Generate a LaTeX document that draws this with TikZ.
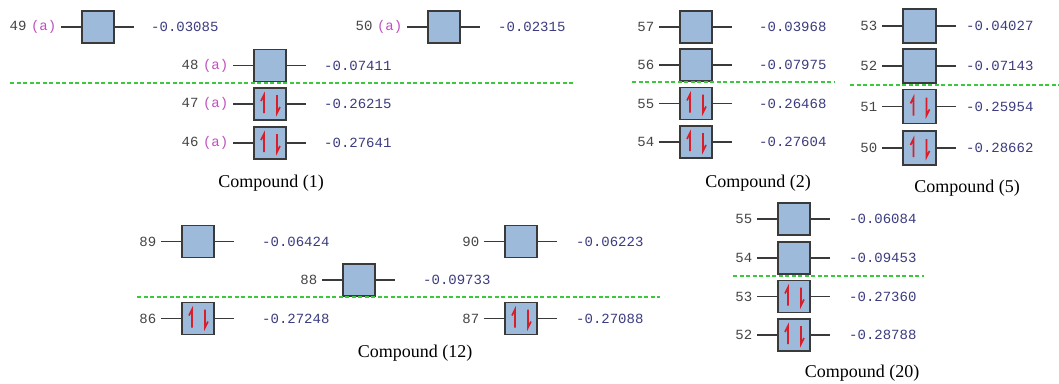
\documentclass[tikz,border=0pt]{standalone}
\usepackage{fontspec}
\setmainfont{Liberation Serif}
\setmonofont{Liberation Mono}
\definecolor{boxfill}{HTML}{9DBADB}
\definecolor{boxline}{HTML}{3A3A3A}
\definecolor{stubcol}{HTML}{3A3A3A}
\definecolor{labcol}{HTML}{454545}
\definecolor{acol}{HTML}{C050C0}
\definecolor{valcol}{HTML}{3C3C80}
\definecolor{spincol}{HTML}{D81E28}
\definecolor{greencol}{HTML}{3CC83C}
\tikzset{
 mobox/.style={draw=boxline,fill=boxfill,line width=1.1pt,minimum width=32pt,minimum height=32pt,inner sep=0pt},
 mobigbox/.style={mobox,minimum width=33pt,minimum height=34pt},
 stub/.style={draw=stubcol,line width=1.1pt},
 lab/.style={font=\fontsize{14}{14}\selectfont\ttfamily,text=labcol,inner sep=0pt,anchor=east},
 val/.style={font=\fontsize{14}{14}\selectfont\ttfamily,text=valcol,inner sep=0pt,anchor=west},
 spin/.style={draw=spincol,line width=1.6pt,line join=miter},
 gline/.style={draw=greencol,line width=2pt,dash pattern=on 4pt off 2.5pt},
 captext/.style={font=\fontsize{18}{18}\selectfont,inner sep=0pt}
}
% #1 style, #2 id, #3 box centre x, #4 centre y, #5 label, #6 value, #7 value x, #8 occupied (1/0)
\newcommand\molevel[8][mobox]{%
 \node[#1] (b#2) at (#3,#4) {};
 \coordinate (l#2) at ([xshift=-20pt]b#2.west);
 \coordinate (r#2) at ([xshift=19pt]b#2.east);
 \draw[stub] (l#2) -- (b#2.west);
 \draw[stub] (b#2.east) -- (r#2);
 \node[lab] (n#2) at ([xshift=-5pt]l#2) {#5};
 \node[val] (v#2) at (#7,#4) {#6};
 \ifnum#8=1
  \draw[spin] ([xshift=-6pt,yshift=-9pt]b#2.center) -- ++(0pt,18pt) -- ++(-3pt,-6pt);
  \draw[spin] ([xshift=7pt,yshift=9pt]b#2.center) -- ++(0pt,-18pt) -- ++(3pt,6pt);
 \fi
}
\newcommand\alab{\hspace{4.5pt}\textcolor{acol}{(a)}}
\begin{document}
\begin{tikzpicture}[x=1pt,y=-1pt]
\useasboundingbox[fill=white] (0,0) rectangle (1059,383);
% Compound (1)
\molevel{a49}{98}{27}{49\alab}{-0.03085}{151}{0}
\molevel{a50}{444}{27}{50\alab}{-0.02315}{498}{0}
\molevel{a48}{270}{65.5}{48\alab}{-0.07411}{324}{0}
\molevel{a47}{270}{104}{47\alab}{-0.26215}{324}{1}
\molevel{a46}{270}{143}{46\alab}{-0.27641}{324}{1}
\coordinate (ga1) at (10,82.5); \coordinate (ga2) at (573,82.5);
\draw[gline] (ga1) -- (ga2);
\node[captext] (c1) at (271,183) {Compound (1)};
% Compound (2)
\molevel{b57}{696}{27}{57}{-0.03968}{759}{0}
\molevel{b56}{696}{65}{56}{-0.07975}{759}{0}
\molevel{b55}{696}{103.5}{55}{-0.26468}{759}{1}
\molevel{b54}{696}{142}{54}{-0.27604}{759}{1}
\coordinate (gb1) at (632,82); \coordinate (gb2) at (835,82);
\draw[gline] (gb1) -- (gb2);
\node[captext] (c2) at (758,183) {Compound (2)};
% Compound (5)
\molevel[mobigbox]{c53}{919.5}{26}{53}{-0.04027}{966}{0}
\molevel[mobigbox]{c52}{919.5}{66}{52}{-0.07143}{966}{0}
\molevel[mobigbox]{c51}{919.5}{106.5}{51}{-0.25954}{966}{1}
\molevel[mobigbox]{c50}{919.5}{148}{50}{-0.28662}{966}{1}
\coordinate (gc1) at (850,85); \coordinate (gc2) at (1059,85);
\draw[gline] (gc1) -- (gc2);
\node[captext] (c5) at (967,188) {Compound (5)};
% Compound (12)
\molevel{d89}{198}{241.5}{89}{-0.06424}{262}{0}
\molevel{d90}{521}{241.5}{90}{-0.06223}{576}{0}
\molevel{d88}{359}{280}{88}{-0.09733}{423}{0}
\molevel{d86}{198}{318.5}{86}{-0.27248}{262}{1}
\molevel{d87}{521}{318.5}{87}{-0.27088}{576}{1}
\coordinate (gd1) at (137,297); \coordinate (gd2) at (660,297);
\draw[gline] (gd1) -- (gd2);
\node[captext] (c12) at (415,353) {Compound (12)};
% Compound (20)
\molevel{e55}{794}{219}{55}{-0.06084}{849}{0}
\molevel{e54}{794}{258}{54}{-0.09453}{849}{0}
\molevel{e53}{794}{296.5}{53}{-0.27360}{849}{1}
\molevel{e52}{794}{335}{52}{-0.28788}{849}{1}
\coordinate (ge1) at (733,276); \coordinate (ge2) at (924,276);
\draw[gline] (ge1) -- (ge2);
\node[captext] (c20) at (862,373) {Compound (20)};
\end{tikzpicture}
\end{document}
